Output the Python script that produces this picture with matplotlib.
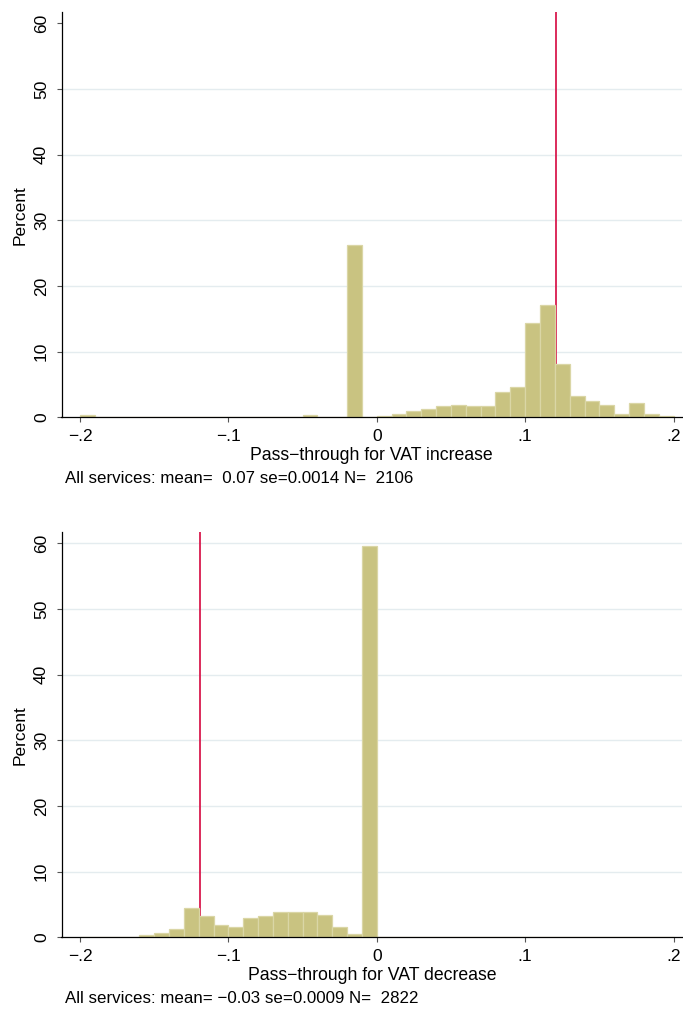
import numpy as np
import matplotlib
matplotlib.use("Agg")
import matplotlib.pyplot as plt

plt.rcParams['font.family'] = ['Liberation Sans', 'DejaVu Sans']

# Histogram bins: width 0.01 from -0.2 to 0.2
bin_left = np.round(np.arange(-0.20, 0.20, 0.01), 2)

# Percent of observations per bin, VAT increase
pct_increase = [0.3, 0.1, 0.0, 0.0, 0.0, 0.1, 0.1, 0.1, 0.0, 0.0,
                0.05, 0.05, 0.05, 0.05, 0.05, 0.3, 0.1, 0.0, 26.3, 0.1,
                0.15, 0.45, 0.9, 1.2, 1.7, 1.85, 1.75, 1.75, 3.85, 4.6,
                14.3, 17.1, 8.1, 3.2, 2.5, 1.9, 0.45, 2.15, 0.45, 0.15]

# Percent of observations per bin, VAT decrease
pct_decrease = [0.1, 0.05, 0.05, 0.05, 0.3, 0.6, 1.3, 4.4, 3.3, 1.8,
                1.6, 3.0, 3.2, 3.8, 3.9, 3.9, 3.35, 1.5, 0.5, 59.5,
                0.05, 0.05, 0.05, 0.0, 0.05, 0.05, 0.0, 0.0, 0.05, 0.05,
                0.05, 0.05, 0.05, 0.0, 0.05, 0.05, 0.05, 0.05, 0.0, 0.05]

# Full pass-through reference lines
ref_increase = 0.121
ref_decrease = -0.119

xticks = [-0.2, -0.1, 0.0, 0.1, 0.2]
xticklabels = ["\u2212.2", "\u2212.1", "0", ".1", ".2"]
yticks = [0, 10, 20, 30, 40, 50, 60]

xlabels = ["Pass\u2212through for VAT increase", "Pass\u2212through for VAT decrease"]
notes = ["All services: mean=  0.07 se=0.0014 N=  2106",
         "All services: mean= \u22120.03 se=0.0009 N=  2822"]

BAR_FILL = '#C9C381'
BAR_EDGE = '#DAD6A6'
REF_RED = '#D91A4E'
GRID = '#E4ECEF'

W, H = 683, 1009
fig = plt.figure(figsize=(W / 100, H / 100), dpi=100)

panels = [
    dict(top=12, bottom=417.3, pct=pct_increase, ref=ref_increase, grid=yticks[1:-1]),
    dict(top=532, bottom=937.3, pct=pct_decrease, ref=ref_decrease, grid=yticks[1:]),
]
left_px, right_px = 61.5, 682


def fy(px):
    return 1 - px / H


for i, p in enumerate(panels):
    ax = fig.add_axes([left_px / W, fy(p['bottom']),
                       (right_px - left_px) / W, (p['bottom'] - p['top']) / H])
    ax.set_xlim(-0.2125, 0.2057)
    ax.set_ylim(0, 61.7)
    for y in p['grid']:
        ax.axhline(y, color=GRID, lw=1.0, zorder=0)
    ax.axvline(p['ref'], color=REF_RED, lw=1.3, zorder=1)
    ax.bar(bin_left, p['pct'], width=0.01, align='edge',
           color=BAR_FILL, edgecolor=BAR_EDGE, linewidth=0.9, zorder=2)

    for s in ['top', 'right']:
        ax.spines[s].set_visible(False)
    for s in ['left', 'bottom']:
        ax.spines[s].set_linewidth(0.9)
        ax.spines[s].set_color('black')
        ax.spines[s].set_zorder(3)

    ax.set_xticks(xticks)
    ax.set_xticklabels(xticklabels)
    ax.set_yticks(yticks)
    ax.set_yticklabels([str(v) for v in yticks], rotation=90, va='center')
    ax.tick_params(axis='both', direction='out', length=3.5, width=0.8,
                   color='#555555', labelsize=12.5, colors='black')
    ax.tick_params(axis='x', pad=4.6)
    ax.tick_params(axis='y', pad=5.5)

    # axis titles and note, placed on their baselines
    cx = (left_px + right_px) / 2 / W
    fig.text(cx, fy(p['bottom'] + 42.7), xlabels[i], fontsize=12.7,
             ha='center', va='baseline')
    fig.text(25 / W, fy((p['top'] + p['bottom']) / 2), "Percent", fontsize=12.5,
             rotation=90, rotation_mode='anchor', ha='center', va='baseline')
    fig.text(65 / W, fy(p['bottom'] + 66), notes[i], fontsize=12.2,
             ha='left', va='baseline')

fig.savefig("out.png", dpi=100, facecolor='white')
